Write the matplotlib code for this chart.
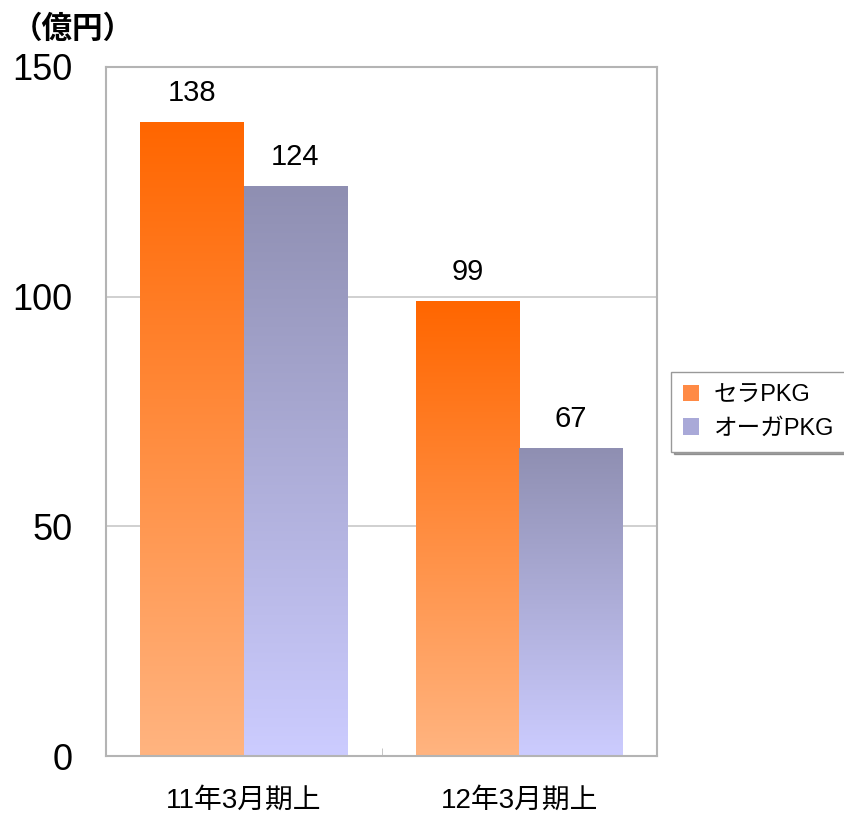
import numpy as np
import matplotlib.pyplot as plt
from matplotlib.colors import LinearSegmentedColormap
from matplotlib.patches import Patch

plt.rcParams['font.family'] = ['Liberation Sans', 'Noto Sans CJK JP', 'DejaVu Sans']

categories = ['11年3月期上', '12年3月期上']
series_names = ['セラPKG', 'オーガPKG']
sera = [138, 99]
organic = [124, 67]

# gradient: bottom colour -> top colour
cmaps = [
    LinearSegmentedColormap.from_list('sera', ['#FFB480', '#FF6600']),
    LinearSegmentedColormap.from_list('orga', ['#CCCCFF', '#8F8FB2']),
]


def gradient_bar(ax, x, w, h, cmap):
    grad = np.linspace(0, 1, 256).reshape(-1, 1)
    ax.imshow(grad, extent=(x - w / 2, x + w / 2, 0, h), origin='lower',
              cmap=cmap, aspect='auto', zorder=2)


fig = plt.figure(figsize=(8.44, 8.14), dpi=100)
ax = fig.add_axes([106 / 844, 58 / 814, 551 / 844, 689 / 814])

x = np.arange(len(categories))
w = 0.375
for i, vals in enumerate([sera, organic]):
    off = (i - 0.5) * w
    for xi, v in zip(x, vals):
        gradient_bar(ax, xi + off, w, v, cmaps[i])
        ax.text(xi + off, v + 6.3, str(v), ha='center', va='center', fontsize=21)

ax.set_xlim(-0.5, 1.5)
ax.set_ylim(0, 150)
ax.set_yticks([0, 50, 100, 150])
ax.tick_params(axis='y', length=0, labelsize=26, pad=24)
ax.set_xticks(x)
ax.set_xticklabels(categories, fontsize=20)
ax.tick_params(axis='x', length=0, pad=23)
ax.set_xticks([0.5], minor=True)
ax.tick_params(axis='x', which='minor', direction='in', length=6, color='#BBBBBB')
ax.grid(axis='y', color='#C8C8C8', linewidth=1.2, zorder=0)
for s in ax.spines.values():
    s.set_color('#B4B4B4')
    s.set_linewidth(1.5)

fig.text(12 / 844, 1 - 30 / 814, '（億円）', fontsize=22, fontweight='bold',
         va='center', ha='left')

handles = [Patch(facecolor='#FF8A45', label=series_names[0]),
           Patch(facecolor='#A9A9D8', label=series_names[1])]
leg = fig.legend(handles=handles, loc='center left',
                 bbox_to_anchor=(671 / 844, 1 - 412 / 814), fontsize=17,
                 frameon=True, fancybox=False, shadow=True,
                 handlelength=0.7, handleheight=0.7, handletextpad=0.6,
                 borderpad=0.5, labelspacing=0.5, borderaxespad=0)
leg.get_frame().set_edgecolor('#999999')

fig.savefig('out.png', dpi=100)
